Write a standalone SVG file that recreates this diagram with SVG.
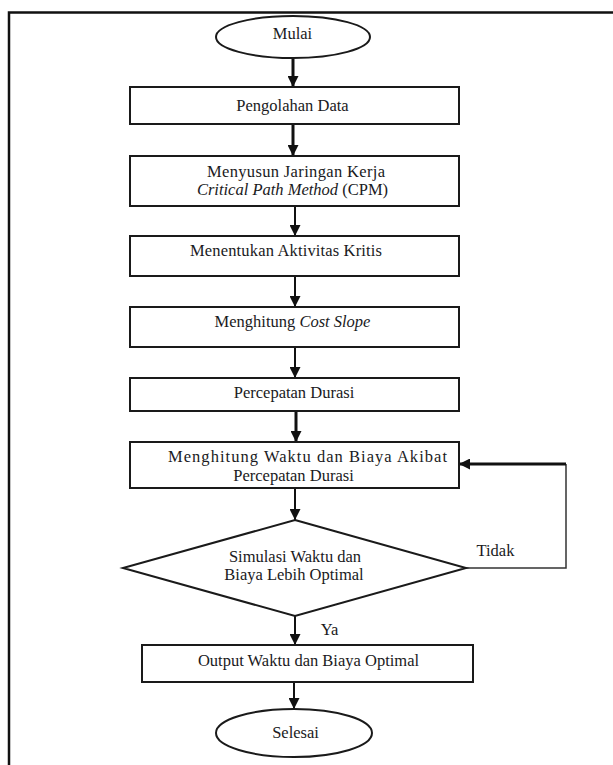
<svg xmlns="http://www.w3.org/2000/svg" width="613" height="765" viewBox="0 0 613 765">
<style>
text{font-family:"Liberation Serif","Times New Roman",Tinos,"DejaVu Serif",serif;font-size:16.5px;fill:#1a1a22;text-anchor:middle}
.b{fill:#fff;stroke:#1a1a1a;stroke-width:2}
.c{fill:none;stroke:#111;stroke-width:2}
.t{fill:none;stroke:#111;stroke-width:3}
.f{fill:none;stroke:#333;stroke-width:1.5}
.i{font-style:italic}
</style>
<defs>
<marker id="a" viewBox="0 0 10 10" refX="10" refY="5" markerWidth="11" markerHeight="11" orient="auto" markerUnits="userSpaceOnUse">
<path d="M0,0 L10,5 L0,10 z" fill="#111"/>
</marker>
</defs>
<rect width="613" height="765" fill="#fff"/>
<path d="M9,765 V12.5 H613" fill="none" stroke="#111" stroke-width="2.5"/>
<g id="connectors">
<line class="t" x1="293" y1="59" x2="293" y2="87" marker-end="url(#a)"/>
<line class="t" x1="293" y1="124" x2="293" y2="156" marker-end="url(#a)"/>
<line class="c" x1="295" y1="206" x2="295" y2="236" marker-end="url(#a)"/>
<line class="c" x1="295" y1="276" x2="295" y2="307" marker-end="url(#a)"/>
<line class="c" x1="295" y1="347" x2="295" y2="378" marker-end="url(#a)"/>
<line class="t" x1="296" y1="411" x2="296" y2="442" marker-end="url(#a)"/>
<line class="c" x1="295" y1="488" x2="295" y2="520" marker-end="url(#a)"/>
<line class="c" x1="295" y1="616" x2="295" y2="645" marker-end="url(#a)"/>
<line class="c" x1="294" y1="682" x2="294" y2="709" marker-end="url(#a)"/>
<path class="f" d="M466,568 H566 V464"/>
<line class="t" x1="566" y1="464" x2="459" y2="464" marker-end="url(#a)"/>
<text x="495.5" y="556">Tidak</text>
<text x="329.5" y="635">Ya</text>
</g>
<g id="mulai">
<ellipse class="b" cx="293" cy="37" rx="77" ry="21"/>
<text x="292.5" y="39">Mulai</text>
</g>
<g id="pengolahan">
<rect class="b" x="130" y="87" width="329" height="37"/>
<text x="292.5" y="111">Pengolahan Data</text>
</g>
<g id="menyusun">
<rect class="b" x="130" y="156" width="329" height="50"/>
<text x="296" y="177" textLength="178" lengthAdjust="spacing">Menyusun Jaringan Kerja</text>
<text x="292.5" y="195"><tspan class="i">Critical Path Method</tspan> (CPM)</text>
</g>
<g id="menentukan">
<rect class="b" x="130" y="236" width="329" height="40"/>
<text x="286" y="256" textLength="192" lengthAdjust="spacing">Menentukan Aktivitas Kritis</text>
</g>
<g id="costslope">
<rect class="b" x="130" y="307" width="329" height="40"/>
<text x="292.5" y="327">Menghitung <tspan class="i">Cost Slope</tspan></text>
</g>
<g id="percepatan">
<rect class="b" x="130" y="378" width="329" height="33"/>
<text x="294" y="398">Percepatan Durasi</text>
</g>
<g id="menghitung">
<rect class="b" x="130" y="442" width="329" height="46"/>
<text x="307.5" y="462" textLength="279" lengthAdjust="spacing">Menghitung Waktu dan Biaya Akibat</text>
<text x="293.5" y="481">Percepatan Durasi</text>
</g>
<g id="simulasi">
<polygon class="b" points="295,520 466,568 295,616 123,568"/>
<text x="295" y="562">Simulasi Waktu dan</text>
<text x="294" y="580">Biaya Lebih Optimal</text>
</g>
<g id="output">
<rect class="b" x="142" y="645" width="331" height="37"/>
<text x="308.5" y="666">Output Waktu dan Biaya Optimal</text>
</g>
<g id="selesai">
<ellipse class="b" cx="294" cy="733" rx="78" ry="24"/>
<text x="295.5" y="738">Selesai</text>
</g>
</svg>
